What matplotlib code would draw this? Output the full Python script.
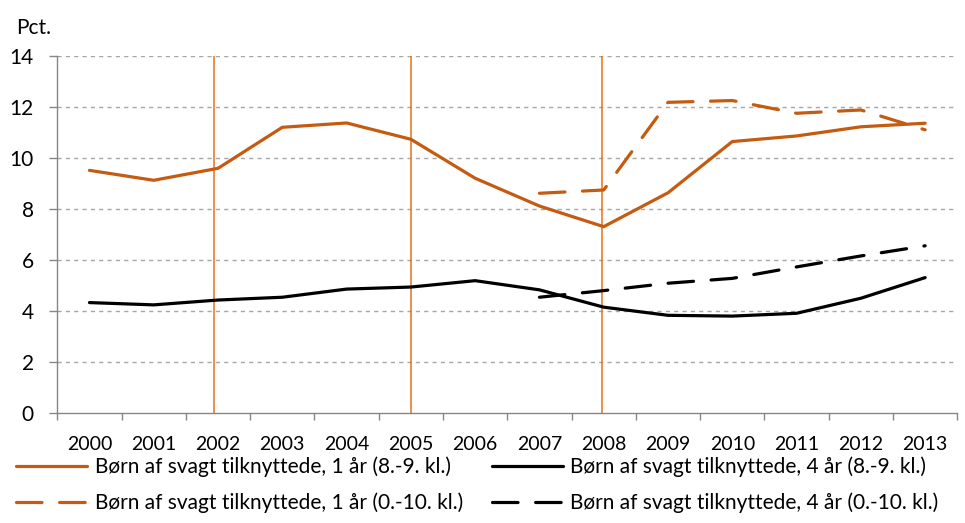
import numpy as np
import matplotlib.pyplot as plt

plt.rcParams['font.family'] = ['Lato', 'DejaVu Sans']

years = ['2000', '2001', '2002', '2003', '2004', '2005', '2006',
         '2007', '2008', '2009', '2010', '2011', '2012', '2013']

# 1 år (8.-9. kl.)
orange_solid = [9.51, 9.12, 9.59, 11.2, 11.37, 10.73, 9.2,
                8.11, 7.3, 8.63, 10.64, 10.86, 11.22, 11.36]
# 1 år (0.-10. kl.), starts 2007
orange_dashed = [None] * 7 + [8.61, 8.74, 12.18, 12.25, 11.75, 11.88, 11.1]
# 4 år (8.-9. kl.)
black_solid = [4.32, 4.23, 4.42, 4.53, 4.85, 4.93, 5.18,
               4.82, 4.14, 3.82, 3.79, 3.9, 4.49, 5.3]
# 4 år (0.-10. kl.), starts 2007
black_dashed = [None] * 7 + [4.53, 4.79, 5.08, 5.27, 5.72, 6.15, 6.55]

# reform markers
vlines = [1.93, 5.0, 7.98]

labels = ['Børn af svagt tilknyttede, 1 år (8.-9. kl.)',
          'Børn af svagt tilknyttede, 1 år (0.-10. kl.)',
          'Børn af svagt tilknyttede, 4 år (8.-9. kl.)',
          'Børn af svagt tilknyttede, 4 år (0.-10. kl.)']

ORANGE = '#C55A11'
VORANGE = '#E8701A'

def to_arr(vals):
    return np.array([np.nan if v is None else v for v in vals], dtype=float)

fig = plt.figure(figsize=(9.65, 5.23), dpi=100)
ax = fig.add_axes([0.0594, 0.211, 0.9326, 0.682])

x = np.arange(len(years))

for xv in vlines:
    ax.plot([xv, xv], [0, 14], color=VORANGE, lw=1.1, zorder=2)

l1, = ax.plot(x, to_arr(orange_solid), color=ORANGE, lw=2.3,
              solid_capstyle='round', zorder=3)
l2, = ax.plot(x, to_arr(orange_dashed), color=ORANGE, lw=2.3,
              dashes=(8, 5.5), dash_capstyle='round', zorder=3)
l3, = ax.plot(x, to_arr(black_solid), color='black', lw=2.3,
              solid_capstyle='round', zorder=3)
l4, = ax.plot(x, to_arr(black_dashed), color='black', lw=2.3,
              dashes=(8, 5.5), dash_capstyle='round', zorder=3)

ax.set_xlim(-0.5, len(years) - 0.5)
ax.set_ylim(0, 14)
ax.set_yticks(np.arange(0, 15, 2))
ax.set_xticks(x)
ax.set_xticklabels(years)
ax.set_xticks(np.arange(-0.5, len(years), 1), minor=True)
ax.tick_params(axis='x', which='major', length=0, pad=17, labelsize=14)
ax.tick_params(axis='x', which='minor', length=5, color='#868686', width=1)
ax.tick_params(axis='y', length=6, color='#868686', width=1, labelsize=15, pad=11)

for yv in range(2, 15, 2):
    ax.axhline(yv, color='#A6A6A6', lw=1, ls=(0, (3, 3)), zorder=1)

for s in ['top', 'right']:
    ax.spines[s].set_visible(False)
for s in ['left', 'bottom']:
    ax.spines[s].set_color('#868686')
    ax.spines[s].set_linewidth(1)

fig.text(0.017, 0.947, 'Pct.', fontsize=15, va='center')

fig.legend([l1, l2, l3, l4], labels, ncol=2, loc='upper left',
           bbox_to_anchor=(0.017, 0.127), frameon=False, fontsize=15,
           handlelength=3.4, handletextpad=0.35, columnspacing=1.42,
           labelspacing=0.73, borderpad=0, borderaxespad=0)

fig.savefig('out.png', dpi=100)
